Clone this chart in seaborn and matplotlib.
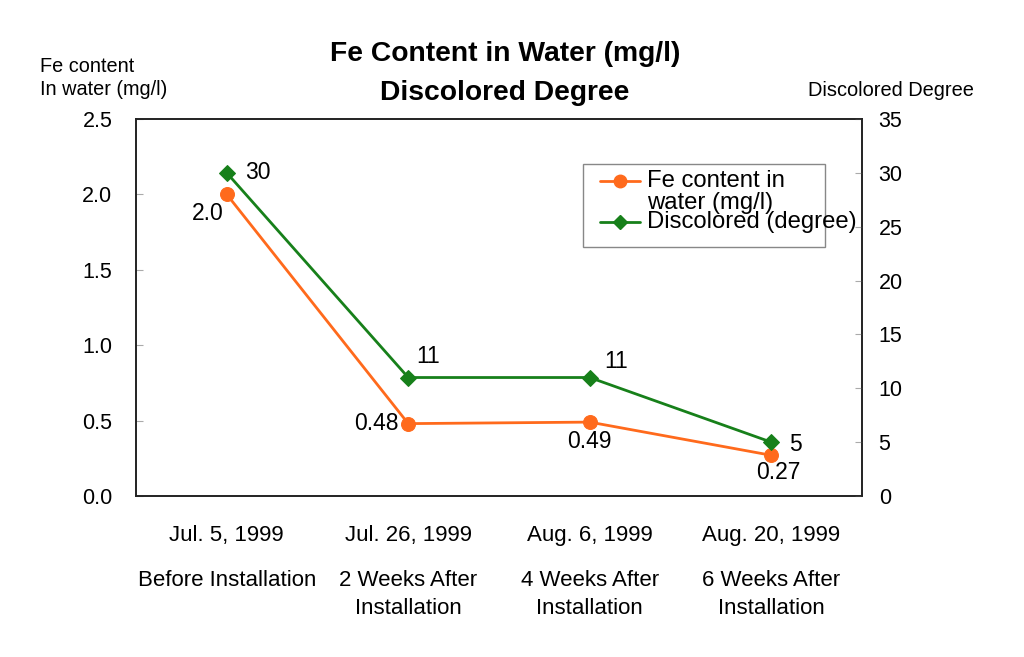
import matplotlib
matplotlib.use("Agg")
import matplotlib.pyplot as plt
import seaborn as sns
import pandas as pd
from matplotlib.lines import Line2D
from matplotlib.patches import Rectangle
from matplotlib.ticker import FormatStrFormatter

# ---- data ----
dates = ["Jul. 5, 1999", "Jul. 26, 1999", "Aug. 6, 1999", "Aug. 20, 1999"]
stages = ["Before Installation", "2 Weeks After\nInstallation",
          "4 Weeks After\nInstallation", "6 Weeks After\nInstallation"]
fe_values = [2.0, 0.48, 0.49, 0.27]
fe_labels = ["2.0", "0.48", "0.49", "0.27"]
disc_values = [30, 11, 11, 5]
disc_labels = ["30", "11", "11", "5"]

ORANGE = "#FF6A1C"
GREEN = "#17801A"

sns.set_theme(style="white")
plt.rcParams["font.family"] = ["Liberation Sans", "DejaVu Sans"]
plt.rcParams["text.color"] = "black"
plt.rcParams["xtick.labelcolor"] = "black"
plt.rcParams["ytick.labelcolor"] = "black"

W, H = 1024, 657
fig = plt.figure(figsize=(W / 100, H / 100), dpi=100)
ax = fig.add_axes([136 / W, 1 - 496 / H, (862 - 136) / W, (496 - 119) / H])
ax2 = ax.twinx()

df = pd.DataFrame({"x": range(len(dates)), "fe": fe_values, "disc": disc_values})

sns.lineplot(data=df, x="x", y="fe", ax=ax, sort=False, color=ORANGE,
             linewidth=2.0, marker="o", markersize=10,
             markeredgecolor=ORANGE, markerfacecolor=ORANGE)
sns.lineplot(data=df, x="x", y="disc", ax=ax2, sort=False, color=GREEN,
             linewidth=2.0, marker="D", markersize=8,
             markeredgecolor=GREEN, markerfacecolor=GREEN)

ax.set_xlim(-0.5, len(dates) - 0.5)
ax.set_ylim(0, 2.5)
ax2.set_ylim(0, 35)
ax.set_yticks([0, 0.5, 1.0, 1.5, 2.0, 2.5])
ax.yaxis.set_major_formatter(FormatStrFormatter("%.1f"))
ax2.set_yticks(range(0, 36, 5))
ax.set_xticks(range(len(dates)))
ax.set_xticklabels(dates)
ax.set_xlabel("")
ax.set_ylabel("")
ax2.set_ylabel("")

for a in (ax, ax2):
    for s in a.spines.values():
        s.set_color("#222222")
        s.set_linewidth(1.2)
ax.tick_params(axis="y", direction="in", length=5, width=0.8, color="#aaaaaa",
               labelcolor="black", labelsize=15.5, pad=17, left=True, right=False)
ax.tick_params(axis="x", length=0, labelsize=16, labelcolor="black", pad=21)
ax2.tick_params(axis="y", direction="in", length=5, width=0.8, color="#aaaaaa",
                labelcolor="black", labelsize=15.5, pad=12, right=True, left=False)

# stage descriptions under the dates
for i, s in enumerate(stages):
    ax.text(i, -0.195, s, transform=ax.get_xaxis_transform(), ha="center",
            va="top", fontsize=16, linespacing=1.45, color="black")

# value annotations
fe_offsets = [(-3, -19, "right"), (-10, 0, "right"), (0, -19, "center"), (7, -17, "center")]
for i, (v, lab) in enumerate(zip(fe_values, fe_labels)):
    dx, dy, ha = fe_offsets[i]
    ax.annotate(lab, (i, v), xytext=(dx, dy), textcoords="offset pixels",
                ha=ha, va="center", fontsize=16.5, color="black")
disc_offsets = [(18, 0), (8, 21), (15, 16), (18, -2)]
for i, (v, lab) in enumerate(zip(disc_values, disc_labels)):
    dx, dy = disc_offsets[i]
    ax2.annotate(lab, (i, v), xytext=(dx, dy), textcoords="offset pixels",
                 ha="left", va="center", fontsize=16.5, color="black")

# titles
fig.text(505 / W, 1 - 73.5 / H, "Fe Content in Water (mg/l)\nDiscolored Degree",
         ha="center", va="center", fontsize=20.3, fontweight="bold",
         linespacing=1.63, color="black")
fig.text(40 / W, 1 - 78 / H, "Fe content\nIn water (mg/l)", ha="left",
         va="center", fontsize=14.3, linespacing=1.3, color="black")
fig.text(808 / W, 1 - 90 / H, "Discolored Degree", ha="left", va="center",
         fontsize=14.4, color="black")

# legend (drawn to match reference layout)
fig.add_artist(Rectangle((583 / W, 1 - 247 / H), (825 - 583) / W, (247 - 164) / H,
                         transform=fig.transFigure, fill=False,
                         edgecolor="#888888", linewidth=1.0))
fig.add_artist(Line2D([600 / W, 640 / W], [1 - 181 / H, 1 - 181 / H],
                      transform=fig.transFigure, color=ORANGE, linewidth=2.0))
fig.add_artist(Line2D([620 / W], [1 - 181 / H], transform=fig.transFigure,
                      color=ORANGE, marker="o", markersize=9, linestyle="none"))
fig.add_artist(Line2D([600 / W, 640 / W], [1 - 222 / H, 1 - 222 / H],
                      transform=fig.transFigure, color=GREEN, linewidth=2.0))
fig.add_artist(Line2D([620 / W], [1 - 222 / H], transform=fig.transFigure,
                      color=GREEN, marker="D", markersize=7, linestyle="none"))
fig.text(647 / W, 1 - 181 / H, "Fe content in", ha="left", va="center", fontsize=17.2)
fig.text(647 / W, 1 - 203 / H, "water (mg/l)", ha="left", va="center", fontsize=17.2)
fig.text(647 / W, 1 - 222 / H, "Discolored (degree)", ha="left", va="center", fontsize=17.2)

fig.savefig("out.png", dpi=100, facecolor="white")
